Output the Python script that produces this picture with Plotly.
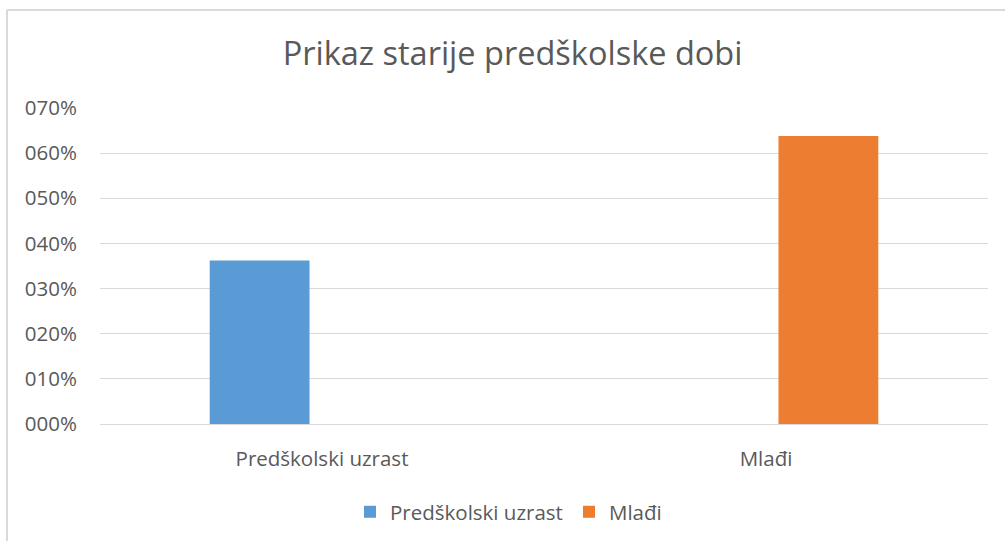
import plotly.graph_objects as go

categories = ["Predškolski uzrast", "Mlađi"]
series_names = ["Predškolski uzrast", "Mlađi"]
series_values = [[0.362, None], [None, 0.638]]
series_colors = ["#5B9BD5", "#ED7D31"]
tick_vals = [0, 0.1, 0.2, 0.3, 0.4, 0.5, 0.6, 0.7]
tick_text = ["000%", "010%", "020%", "030%", "040%", "050%", "060%", "070%"]
title_text = "Prikaz starije predškolske dobi"

FONT = "Open Sans"
GRAY = "#595959"
W, H = 1005, 541
L, R, T, B = 100, 17, 108, 117
PW, PH = W - L - R, H - T - B

fig = go.Figure()
for name, vals, col in zip(series_names, series_values, series_colors):
    fig.add_trace(go.Bar(x=categories, y=vals, name=name, marker_color=col,
                         marker_line_width=0))

fig.update_layout(
    width=W, height=H,
    paper_bgcolor="white", plot_bgcolor="white",
    margin=dict(l=L, r=R, t=T, b=B, autoexpand=False),
    barmode="group", bargap=0.438, bargroupgap=0.2,
    font=dict(family=FONT, color=GRAY, size=20),
    title=dict(text=title_text, x=0.51, xanchor="center", y=0.9, yanchor="middle",
               font=dict(family=FONT, size=32.5, color=GRAY)),
    legend=dict(orientation="h", x=(350 - L) / PW, xanchor="left", y=-0.215, yanchor="top",
                font=dict(family=FONT, size=20.5, color=GRAY),
                entrywidth=174, entrywidthmode="pixels",
                traceorder="normal"),
    showlegend=True,
)
fig.update_yaxes(range=[0, 0.7], tickvals=tick_vals, ticktext=tick_text,
                 showgrid=True, gridcolor="#D9D9D9", gridwidth=1,
                 zeroline=False, showline=False,
                 ticks="outside", ticklen=18, tickcolor="rgba(0,0,0,0)",
                 tickfont=dict(family=FONT, size=20.5, color=GRAY))
fig.update_xaxes(showline=True, linecolor="#D9D9D9", linewidth=1,
                 ticks="outside", ticklen=16, tickcolor="rgba(0,0,0,0)",
                 tickfont=dict(family=FONT, size=20.5, color=GRAY))

# chart-area border (top and left edges visible in the reference)
bx0 = (7 - L) / PW
by1 = 1 + (T - 10) / PH
fig.add_shape(type="line", xref="paper", yref="paper", x0=bx0, x1=(W - L) / PW,
              y0=by1, y1=by1, line=dict(color="#D9D9D9", width=2))
fig.add_shape(type="line", xref="paper", yref="paper", x0=bx0, x1=bx0,
              y0=by1, y1=-(B + 5) / PH, line=dict(color="#D9D9D9", width=2))

fig.write_html("out.html", config={"displayModeBar": False},
               post_script="document.body.style.margin='0';document.body.style.overflow='hidden';")
